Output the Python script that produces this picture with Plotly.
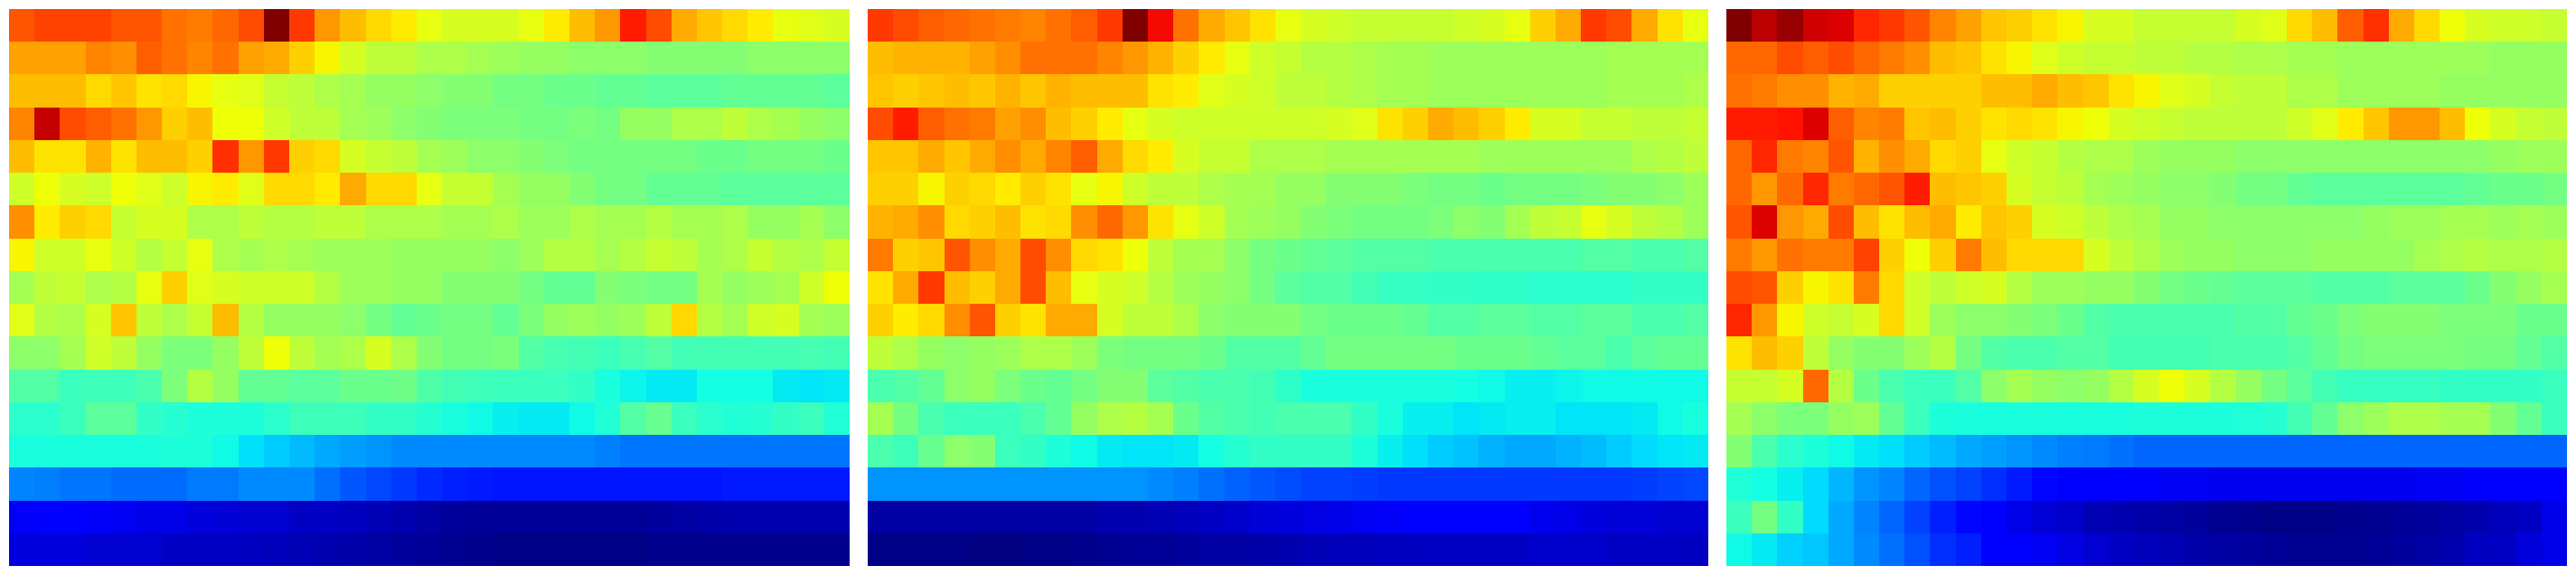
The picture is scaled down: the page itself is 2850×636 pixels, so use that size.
import plotly.graph_objects as go

# Values on a 0-100 scale, rows top to bottom, 33 columns each
panel_a = [
[82,84,84,84,82,82,79,78,80,83,100,85,75,71,68,66,63,61,61,61,63,66,71,75,88,83,73,70,68,66,63,62,61],
[74,74,74,77,76,81,79,77,79,74,73,69,65,61,58,58,56,56,55,54,53,53,52,52,52,51,51,51,51,52,52,52,52],
[71,71,71,68,70,67,68,65,63,62,59,58,56,55,53,53,52,51,51,49,49,48,48,47,47,46,46,46,47,47,47,47,46],
[77,94,83,81,79,75,69,71,64,64,60,58,58,55,54,52,51,50,50,50,49,49,50,49,53,53,56,56,58,56,55,53,52],
[71,67,67,72,67,71,71,69,86,75,85,69,68,61,59,58,55,54,52,52,51,50,49,49,49,49,49,48,48,49,49,49,48],
[60,64,61,60,64,62,60,65,66,62,68,68,66,73,68,68,63,59,59,55,53,53,51,49,49,47,47,47,46,46,46,46,46],
[76,66,69,68,59,61,61,56,56,58,57,57,58,58,56,56,56,55,55,56,54,54,56,55,55,57,55,55,56,53,53,55,52],
[65,60,60,63,60,57,59,63,56,55,56,55,54,54,54,53,53,53,53,52,54,57,57,55,57,59,58,55,56,59,57,56,59],
[55,58,59,56,57,63,69,62,61,60,60,60,57,54,54,53,53,51,51,51,49,47,47,51,50,49,49,55,53,54,55,60,64],
[62,57,56,61,70,58,56,59,71,57,53,53,53,52,49,47,48,49,49,47,50,53,54,53,54,58,68,57,55,60,61,55,54],
[52,52,55,60,58,53,50,50,53,58,64,58,55,56,61,56,51,49,49,50,45,43.5,43,42,43.5,45,43,43,43,43,43,43.5,43],
[45,45,42,42.5,42.5,44,50,57,53,47,47,46,46,48,48,48.5,44.5,43,42.5,42,42,42,41,38,36.5,35.5,35.5,37.5,37.5,37.5,35.5,35,35.5],
[40,40,42,46,46,41,39.5,38.5,38.5,38.5,40,42.5,42.5,42.5,41,41,39.5,38,37,36,35.5,35.5,37,39,45,47.5,42,40,39,39.5,41,42,39],
[38,38,38,38,38,38,38.5,38.5,37,34.5,32.5,31,29,28,27,26,26,26,26,26,26,26,26,25,24,24,24,24,24,24,24,24,24],
[25.5,25,24,24,23,23,23,24.5,24.5,26,26,26,23.5,21,19.5,18,16.5,15.5,15,14.5,14.5,14.5,14.5,14.5,14.5,14.5,14.5,14.5,15,15,15,15,15],
[10.5,11,11,10.5,10,9,9,8,7.5,7,7,6,6,5.5,4.5,4,3,2.5,2,2,2,2,2,2,2,2.5,3,3.5,4,4,4,4,4],
[8,8,8,7,7,7,6,6,6,5.5,5,4.5,4,3.5,3,2.5,2,1.5,1,0.5,0.5,0.5,0.5,0.5,0.5,1,1,1,1,1,1,1,1],
]
panel_b = [
[85,83,81,80,79,78,77,79,81,85,100,90,79,73,70,67,63,61,60,59,59,59,59,60,61,63,69,73,85,83,73,67,63],
[71,72,72,72,74,76,79,79,79,77,75,72,69,66,63,60,59,57,57,56,55,55,54,54,54,54,54,54,54,55,55,55,55],
[70,69,70,71,70,72,70,72,71,71,71,67,66,62,61,60,58,58,57,56,55,55,54,54,54,54,54,54,54,55,55,55,56],
[83,88,81,79,78,74,76,71,69,66,63,61,60,60,60,60,60,60,61,62,67,69,73,71,69,66,61,61,59,59,58,58,59],
[70,70,73,70,73,76,73,77,81,73,68,66,61,59,59,56,56,56,55,55,55,55,55,55,54,54,54,54,54,54,56,57,58],
[69,69,65,69,68,66,69,67,63,65,60,58,58,56,55,55,53,53,51,51,51,50,49,49,48,49,49,49,50,51,51,52,54],
[72,73,76,68,69,71,67,68,76,80,75,67,63,60,55,54,53,51,50,49,49,49,50,52,51,55,58,59,63,61,58,57,54],
[78,69,70,82,76,73,83,76,68,67,64,58,55,55,52,49,48,47,46,45,45,45,44,44,44,44,44,44,45,45,44,44,45],
[67,73,85,71,69,73,83,71,63,61,60,57,54,53,52,49,46,45,45,43,41.5,41.5,41,41,40.5,40.5,40,40,40,40,41,41,41],
[69,66,68,76,82,69,67,73,73,61,58,58,56,52,51,51,51,49,48,48,48,47,45,45,46,46,45,45,46,46,44,44,45],
[58,56,53,52,53,54,56,56,54,50,49,49,49,48,45,45,45,47,49,49,49,49,49,48,48,48,47,46,46,44,46,47,47],
[44,45,47,52,53,50,48,47,49,51,51,46,45,44,44,43,40.5,38,38,38,38,38,38,37.5,37,36,36,36.5,37,37,37,37,37],
[55,49,44,42,42,42,44,47,53,56,57,55,48,45,44,43,44,44,44,41,38,36,36,35,35.5,36,36,35,35,35,35.5,37,38],
[44,42.5,47.5,52,51,42,41,38.5,37,35.5,35,35,35.5,37.5,39.5,41,41,41,41,38.5,36,34.5,32.5,31.5,30,29,29,30,31,32.5,34,35,35.5],
[27,27,27,27,27,27,27,27,27,27,27,26,25,23.5,22,21,20,19,19,18.5,18,18,18,18,18,18,18,18,18,18,18.5,19,19.5],
[3,3,3,3,3,3,3,3,3,4,4,4.5,5,6,6.5,7.5,8,8.5,9,10,10.5,11,11,11,11,11,9.5,9,8,7.5,7.5,7,7],
[0.5,0.5,0.5,0.5,0,0,0.5,0.5,1,1.5,2,2,2.5,3,3,3.5,4,4.5,5,5,5.5,5.5,6,6,6,6,6.5,6.5,6.5,6,6,6,5.5],
]
panel_c = [
[100,95,98,93,92,87,85,82,77,74,70,69,67,65,61,61,59,59,59,59,61,62,68,71,81,86,73,68,64,61,60,60,59],
[80,80,83,81,83,80,78,76,71,70,67,65,62,60,59,59,58,58,57,57,56,56,55,55,54,54,54,54,54,54,53,53,53],
[79,78,76,76,72,73,69,69,69,69,71,71,73,71,70,67,65,62,61,59,58,58,56,56,54,54,54,54,53,53,53,53,53],
[88,88,89,92,81,77,78,70,71,69,67,68,67,65,64,61,60,59,58,58,58,58,60,62,66,70,75,75,71,64,61,59,58],
[80,87,78,77,82,72,76,73,68,69,63,60,59,57,56,56,54,53,53,53,52,52,52,52,52,52,52,52,52,52,53,54,54],
[80,75,80,87,78,80,82,88,71,70,69,61,59,58,55,54,53,52,52,51,49,49,47,46,46,46,46,46,46,47,48,48,49],
[82,92,75,73,83,71,67,71,73,66,70,69,61,60,58,56,55,53,53,52,52,52,52,52,52,53,54,54,55,55,54,55,54],
[78,75,79,78,78,84,69,64,69,78,71,68,68,68,61,58,56,54,53,53,52,52,52,53,53,53,53,55,56,57,56,56,57],
[83,82,69,65,67,78,68,60,58,60,61,57,54,54,53,53,51,49,48,47,46,46,46,45,45,45,46,46,46,48,51,53,55],
[87,75,65,60,59,61,68,60,54,52,52,51,50,48,45,44,44,44,44,44,45,45,47,48,50,51,51,51,50,50,50,48,48],
[67,71,69,58,53,51,51,54,57,49,45,44,44,45,45,43,43,43,43,44,44,44,45,47,49,50,50,50,50,49,49,47,45],
[59,59,61,80,57,48,44,42,42,45,52,55,53,52,53,57,61,64,61,57,53,49,46,43,41.5,41.5,41.5,41.5,41,41,41,41,42],
[55,52,50,50,53,54,47,42,38.5,38,38,38,38,38,38,38,38.5,38.5,38.5,38.5,39,39.5,43,47,52,54,56,56,55,55,51,47,42],
[51,44,40,38.5,37,35.5,34.5,32.5,31,29,28,27,26,25,24.5,23.5,22.5,22.5,22.5,22.5,22.5,22.5,22.5,22.5,22.5,22.5,22.5,22.5,22.5,22.5,22.5,22.5,22.5],
[39,37.5,36,34,30.5,27,25.5,22.5,20.5,19,17,15,13,12,11.5,11.5,11,10,10,9.5,9.5,9.5,9.5,9.5,9.5,9.5,9.5,10,10,11,11.5,11.5,12.5],
[42,49,41,34,29,25.5,22.5,19,15.5,13,11,9,7.5,6.5,4.5,4,3.5,3,2.5,1.5,1,0.5,0.5,0.5,1,1.5,2,2.5,3,4,5,6,9],
[37,35.5,33,32,29,26,23.5,20.5,17,15.5,12,11,10,8.5,7,6,5,4.5,3.5,3,2.5,2,1.5,1.5,1.5,2,2.5,3,4,5.5,6,8,9],
]
panels = [panel_a, panel_b, panel_c]

# matplotlib-style jet stops
R = [(0,0),(.35,0),(.66,1),(.89,1),(1,.5)]
G = [(0,0),(.125,0),(.375,1),(.64,1),(.91,0),(1,0)]
B = [(0,.5),(.11,1),(.34,1),(.65,0),(1,0)]
def ch(pts, t):
    for (a,va),(b,vb) in zip(pts, pts[1:]):
        if t <= b:
            return va + (vb-va)*(t-a)/(b-a)
    return pts[-1][1]
stops = sorted({p[0] for s in (R,G,B) for p in s})
jet = [[t, "rgb(%d,%d,%d)" % tuple(round(255*ch(s,t)) for s in (R,G,B))] for t in stops]

W, H = 2850, 636
lefts = [10, 960, 1910]
pw = 930
top, bottom = 10, 626

fig = go.Figure()
for i, (z, l) in enumerate(zip(panels, lefts)):
    s = "" if i == 0 else str(i+1)
    fig.add_trace(go.Heatmap(z=z, zmin=0, zmax=100, colorscale=jet, showscale=False,
                             xaxis="x"+s, yaxis="y"+s, hoverinfo="skip"))
    common = dict(visible=False, showgrid=False, zeroline=False, fixedrange=True)
    fig.layout["xaxis"+s] = dict(domain=[l/W, (l+pw)/W], range=[-0.5,32.5], anchor="y"+s, **common)
    fig.layout["yaxis"+s] = dict(domain=[1-bottom/H, 1-top/H], range=[16.5,-0.5], anchor="x"+s, **common)

fig.update_layout(width=W, height=H, margin=dict(l=0,r=0,t=0,b=0),
                  paper_bgcolor="white", plot_bgcolor="white")
fig.write_html("out.html", config={"displayModeBar": False},
               post_script="document.body.style.margin='0';")
